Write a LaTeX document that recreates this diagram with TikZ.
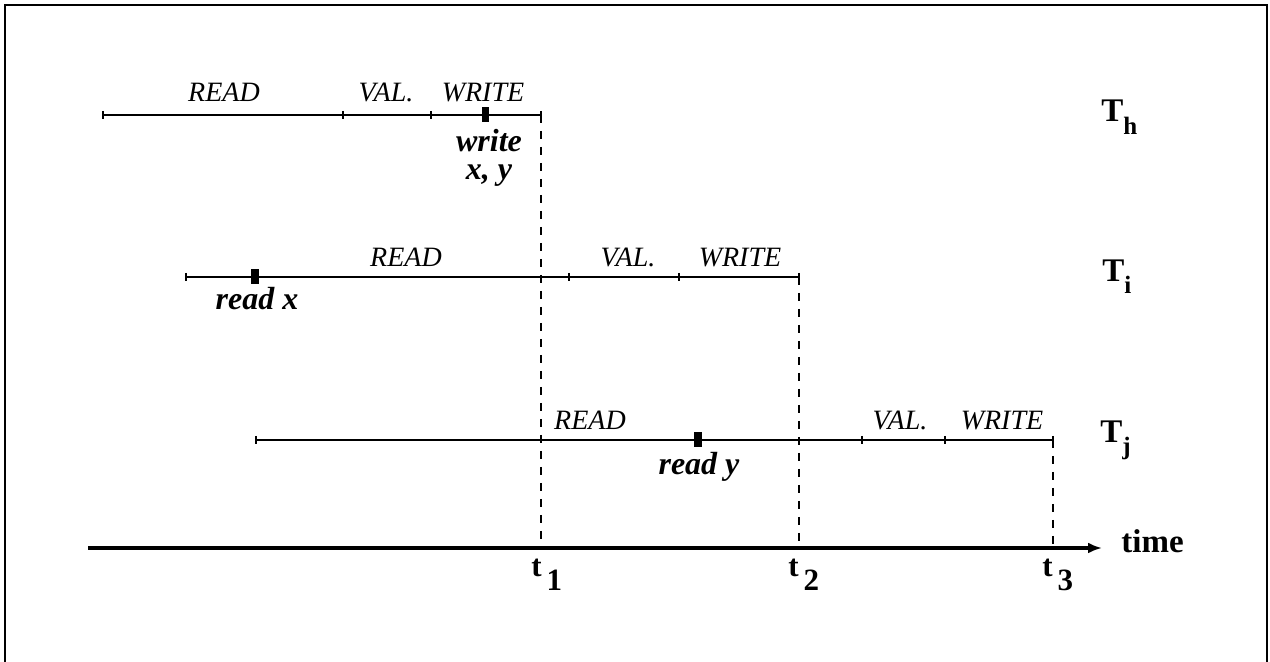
\documentclass[tikz,border=0pt]{standalone}
\usepackage{fontspec}
\setmainfont{Liberation Serif}
\usetikzlibrary{arrows.meta}
\begin{document}
\begin{tikzpicture}[x=0.5pt,y=-0.5pt,
  tline/.style={line width=0.9pt},
  tickmark/.style={line width=0.9pt},
  phase/.style={font=\fontsize{14}{16}\selectfont\itshape,inner sep=0pt,anchor=base},
  oplabel/.style={font=\fontsize{16}{18}\selectfont\bfseries\itshape,inner sep=0pt,anchor=base},
  tname/.style={font=\fontsize{16.5}{18}\selectfont\bfseries,inner sep=0pt,anchor=base west},
  tlabel/.style={font=\fontsize{15.5}{17}\selectfont\bfseries,inner sep=0pt,anchor=base west},
  mk/.style={fill=black,minimum width=3.75pt,minimum height=7.5pt,inner sep=0pt,draw=none},
  guide/.style={line width=0.75pt,dash pattern=on 4pt off 4pt},
  axisline/.style={line width=2pt,-{Latex[length=7pt,width=5.5pt]}},
  frameline/.style={line width=1.15pt}
]
\useasboundingbox (0,0) rectangle (1270,662);
% frame
\coordinate (f1) at (5,680);
\coordinate (f2) at (5,5);
\coordinate (f3) at (1267,5);
\coordinate (f4) at (1267,680);
\draw[frameline] (f1) -- (f2) -- (f3) -- (f4);

% axis points
\coordinate (a0) at (88,548);
\coordinate (a1) at (541,548);
\coordinate (a2) at (799,548);
\coordinate (a3) at (1053,548);
\coordinate (aend) at (1102,548);

% ---------- T_h ----------
\coordinate (h0) at (103,115);
\coordinate (h1) at (343,115);
\coordinate (h2) at (431,115);
\coordinate (h3) at (541,115);
\draw[tline] (h0) -- (h3);
\foreach \p in {h0,h1,h2,h3} \draw[tickmark] ([yshift=2pt]\p) -- ([yshift=-2pt]\p);
\node[mk] (mh) at (485.5,115) {};
\node[phase] (hread) at (224,102) {READ};
\node[phase] (hval) at (386,102) {VAL.};
\node[phase] (hwrite) at (483,102) {WRITE};
\node[oplabel,align=center,font=\fontsize{16}{14}\selectfont\bfseries\itshape,anchor=north]
  (hop) at (489,129) {write\\x, y};
\node[tname] (Th) at (1101,122) {T\raisebox{-6.5pt}{\fontsize{12.5}{14}\selectfont h}};

% ---------- T_i ----------
\coordinate (i0) at (186,277);
\coordinate (i1) at (569,277);
\coordinate (i2) at (679,277);
\coordinate (i3) at (799,277);
\draw[tline] (i0) -- (i3);
\foreach \p in {i0,i1,i2,i3} \draw[tickmark] ([yshift=2pt]\p) -- ([yshift=-2pt]\p);
\node[mk] (mi) at (255,277) {};
\node[phase] (iread) at (406,267) {READ};
\node[phase] (ival) at (628,267) {VAL.};
\node[phase] (iwrite) at (740,267) {WRITE};
\node[oplabel] (iop) at (257,310) {read x};
\node[tname] (Ti) at (1102,282) {T\raisebox{-6pt}{\fontsize{12.5}{14}\selectfont i}};

% ---------- T_j ----------
\coordinate (j0) at (256,440);
\coordinate (j1) at (862,440);
\coordinate (j2) at (945,440);
\coordinate (j3) at (1053,440);
\draw[tline] (j0) -- (j3);
\foreach \p in {j0,j1,j2,j3} \draw[tickmark] ([yshift=2pt]\p) -- ([yshift=-2pt]\p);
\node[mk] (mj) at (698,440) {};
\node[phase] (jread) at (590,430) {READ};
\node[phase] (jval) at (900,430) {VAL.};
\node[phase] (jwrite) at (1002,430) {WRITE};
\node[oplabel] (jop) at (699,475) {read y};
\node[tname] (Tj) at (1100,443) {T\raisebox{-6pt}{\fontsize{12.5}{14}\selectfont j}};

% guides
\draw[guide] (h3) -- (a1);
\draw[guide] (i3) -- (a2);
\draw[guide] (j3) -- (a3);

% time axis
\draw[axisline] (a0) -- (aend);
\node[tlabel,font=\fontsize{16.5}{18}\selectfont\bfseries] (time) at (1121,553) {time};
\node[tlabel] (t1) at (531,577) {t\hspace{2.5pt}\raisebox{-6.5pt}{1}};
\node[tlabel] (t2) at (788,577) {t\hspace{2.5pt}\raisebox{-6.5pt}{2}};
\node[tlabel] (t3) at (1042,577) {t\hspace{2.5pt}\raisebox{-6.5pt}{3}};
\end{tikzpicture}
\end{document}
